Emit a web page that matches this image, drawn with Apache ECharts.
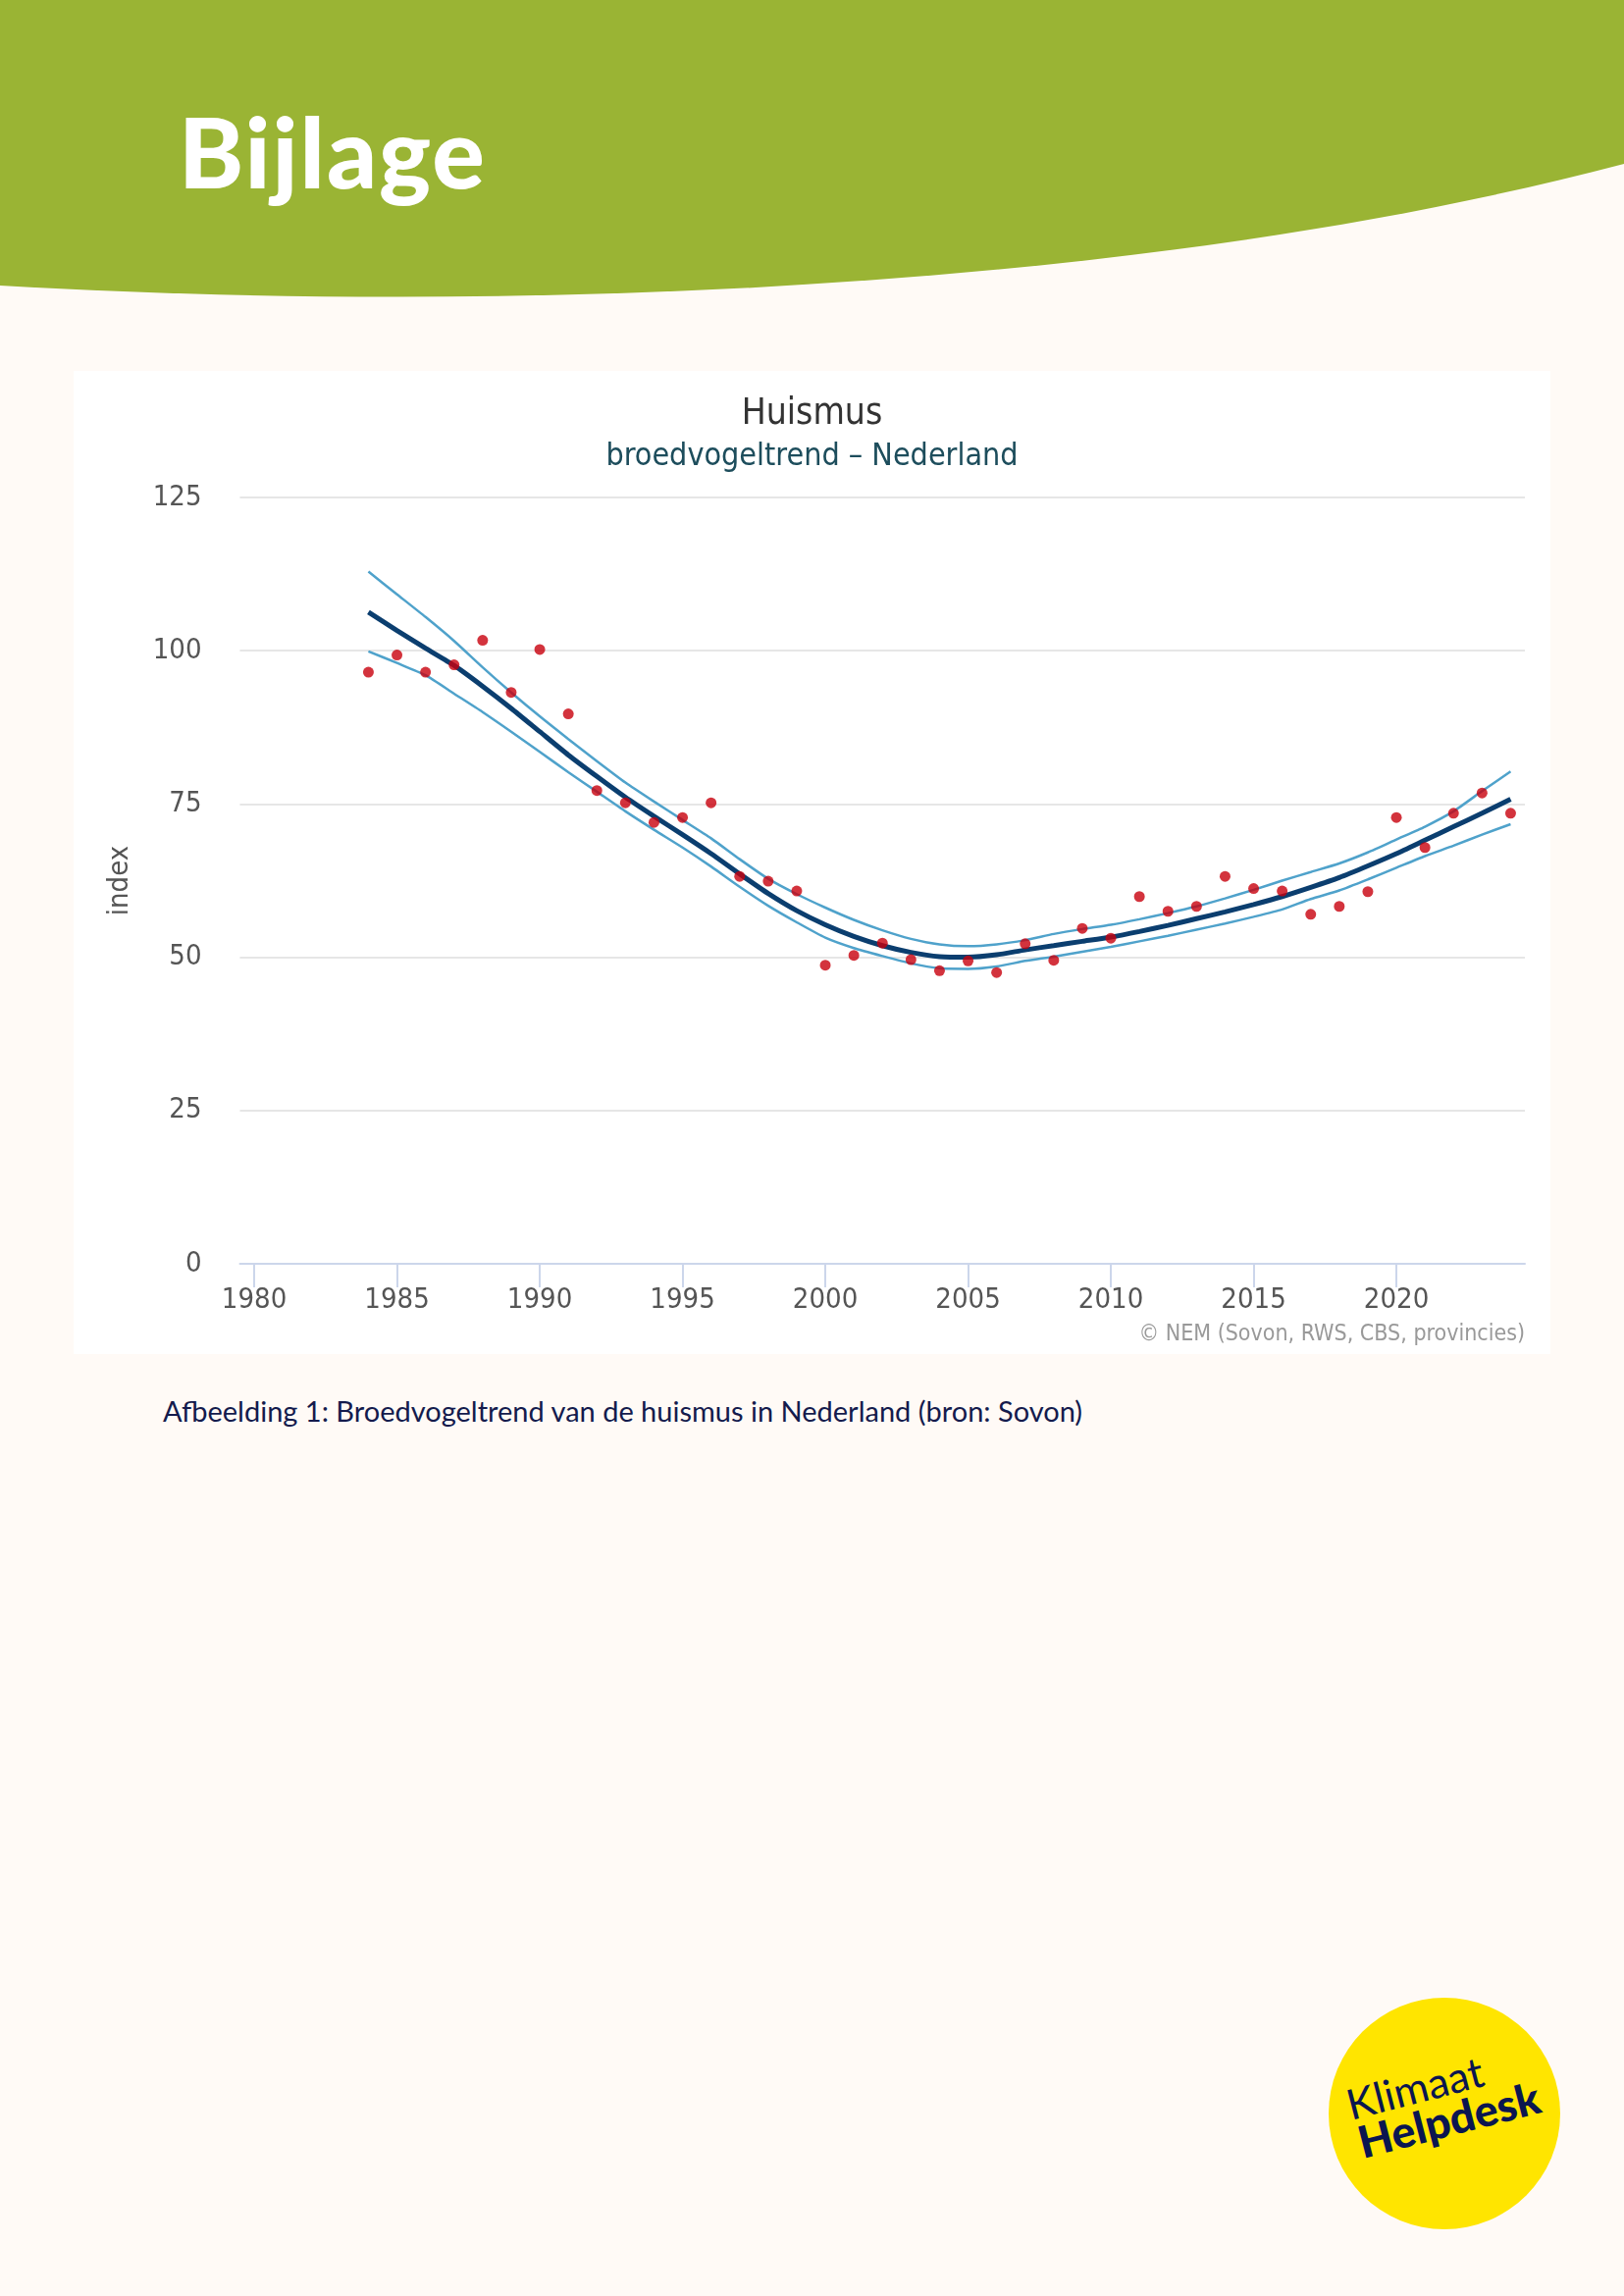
<!DOCTYPE html>
<html>
<head>
<meta charset="utf-8">
<script src="https://cdn.jsdelivr.net/npm/echarts@6/dist/echarts.min.js"></script>
<style>
  html, body { margin: 0; padding: 0; background: #fffaf6; }
  #page { position: relative; width: 1655px; height: 2340px; background: #fffaf6; overflow: hidden; }
  #deco { position: absolute; left: 0; top: 0; }
  #chart { position: absolute; left: 75px; top: 378px; width: 1505px; height: 1002px; background: #ffffff; }
</style>
</head>
<body>
<div id="page">
  <svg id="deco" width="1655" height="2340" xmlns="http://www.w3.org/2000/svg">
    <path d="M0,0 L1655,0 L1655,167 C1150,300 500,320 0,291 Z" fill="#9ab434"/>
    <text x="182" y="192" font-family="Lato" font-weight="900" font-size="100" letter-spacing="2" fill="#ffffff">Bijlage</text>
    <text x="166" y="1449" font-family="Lato" font-weight="400" font-size="29" fill="#141b4d">Afbeelding 1: Broedvogeltrend van de huismus in Nederland (bron: Sovon)</text>
    <circle cx="1472" cy="2154" r="118" fill="#ffe500"/>
    <text x="1377" y="2161" font-family="Lato" font-weight="400" font-size="43" fill="#0b1650" transform="rotate(-14.5 1377 2161)">Klimaat</text>
    <text x="1389" y="2200" font-family="Lato" font-weight="900" font-size="45" fill="#0b1650" transform="rotate(-14.5 1389 2200)">Helpdesk</text>
  </svg>
  <div id="chart"></div>
</div>
<script>
const years = [1984,1985,1986,1987,1988,1989,1990,1991,1992,1993,1994,1995,1996,1997,1998,1999,2000,2001,2002,2003,2004,2005,2006,2007,2008,2009,2010,2011,2012,2013,2014,2015,2016,2017,2018,2019,2020,2021,2022,2023,2024];
const indexValues = [96.5,99.3,96.5,97.7,101.7,93.2,100.2,89.7,77.2,75.2,72.0,72.8,75.2,63.2,62.4,60.8,48.7,50.3,52.3,49.6,47.8,49.4,47.5,52.2,49.5,54.7,53.1,59.9,57.5,58.3,63.2,61.2,60.8,57.0,58.3,60.7,72.8,67.9,73.5,76.8,73.5];
const trendValues = [106.3,103.3,100.4,97.6,94.2,90.6,86.8,83.0,79.5,76.1,73.0,70.0,66.9,63.6,60.4,57.6,55.3,53.4,51.9,50.8,50.1,50.0,50.4,51.2,51.9,52.6,53.3,54.2,55.2,56.3,57.4,58.6,59.9,61.4,63.0,64.9,66.9,69.1,71.3,73.5,75.8];
const upperValues = [112.9,109.2,105.5,101.6,97.3,93.2,89.3,85.6,82.0,78.5,75.4,72.4,69.4,66.0,62.8,60.3,58.1,56.1,54.4,53.0,52.1,51.8,52.1,52.8,53.8,54.6,55.3,56.2,57.2,58.3,59.6,61.0,62.5,63.9,65.3,67.1,69.2,71.3,73.8,77.1,80.3];
const lowerValues = [99.9,98.0,96.0,93.0,90.0,86.8,83.5,80.2,77.0,73.8,70.8,67.9,64.8,61.5,58.4,55.7,53.2,51.5,50.2,49.0,48.2,48.1,48.5,49.4,50.1,50.9,51.7,52.6,53.5,54.5,55.5,56.6,57.8,59.5,60.9,62.7,64.6,66.5,68.2,70.0,71.7];
const xTickLabels = [1980,1985,1990,1995,2000,2005,2010,2015,2020];

const pairs = arr => years.map((y, i) => [y, arr[i]]);
const FONT = "'DejaVu Sans Condensed', 'DejaVu Sans', sans-serif";

const chart = echarts.init(document.getElementById('chart'), null, { renderer: 'canvas' });
chart.setOption({
  backgroundColor: '#ffffff',
  animation: false,
  title: [
    { text: 'Huismus', left: 'center', top: 21,
      textStyle: { fontFamily: FONT, fontSize: 37, fontWeight: 'normal', color: '#333333', lineHeight: 37 } },
    { text: 'broedvogeltrend – Nederland', left: 'center', top: 67,
      textStyle: { fontFamily: FONT, fontSize: 32, fontWeight: 'normal', color: '#1d4d5c', lineHeight: 32 } }
  ],
  grid: { left: 169.5, right: 26, top: 129, bottom: 92 },
  xAxis: {
    type: 'value', min: 1979.5, max: 2024.5,
    axisLine: { show: true, lineStyle: { color: '#ccd6eb', width: 2 } },
    axisTick: { show: true, customValues: xTickLabels, length: 24, lineStyle: { color: '#ccd6eb', width: 2 } },
    axisLabel: { customValues: xTickLabels, margin: 23, fontFamily: FONT, fontSize: 29, color: '#555555',
      formatter: v => String(v) },
    splitLine: { show: false }
  },
  yAxis: {
    type: 'value', min: 0, max: 125, interval: 25,
    name: 'index', nameLocation: 'middle', nameGap: 108,
    nameTextStyle: { fontFamily: FONT, fontSize: 29, color: '#555555' },
    axisLine: { show: false }, axisTick: { show: false },
    axisLabel: { margin: 39, fontFamily: FONT, fontSize: 29, color: '#555555', formatter: v => String(v) },
    splitLine: { show: true, lineStyle: { color: '#e6e6e6', width: 2 } }
  },
  graphic: [
    { type: 'text', right: 26, top: 971,
      style: { text: '© NEM (Sovon, RWS, CBS, provincies)', fontFamily: FONT, fontSize: 23, fill: '#999999' } }
  ],
  series: [
    { name: 'ondergrens', type: 'line', data: pairs(lowerValues), showSymbol: false, smooth: 0.2,
      lineStyle: { color: '#4fa2cb', width: 2.5 }, z: 2 },
    { name: 'bovengrens', type: 'line', data: pairs(upperValues), showSymbol: false, smooth: 0.2,
      lineStyle: { color: '#4fa2cb', width: 2.5 }, z: 2 },
    { name: 'trend', type: 'line', data: pairs(trendValues), showSymbol: false, smooth: 0.2,
      lineStyle: { color: '#0b3e6f', width: 5 }, z: 3 },
    { name: 'index', type: 'scatter', data: pairs(indexValues), symbolSize: 11,
      itemStyle: { color: '#c8000c' }, z: 4 }
  ]
});
</script>
</body>
</html>
